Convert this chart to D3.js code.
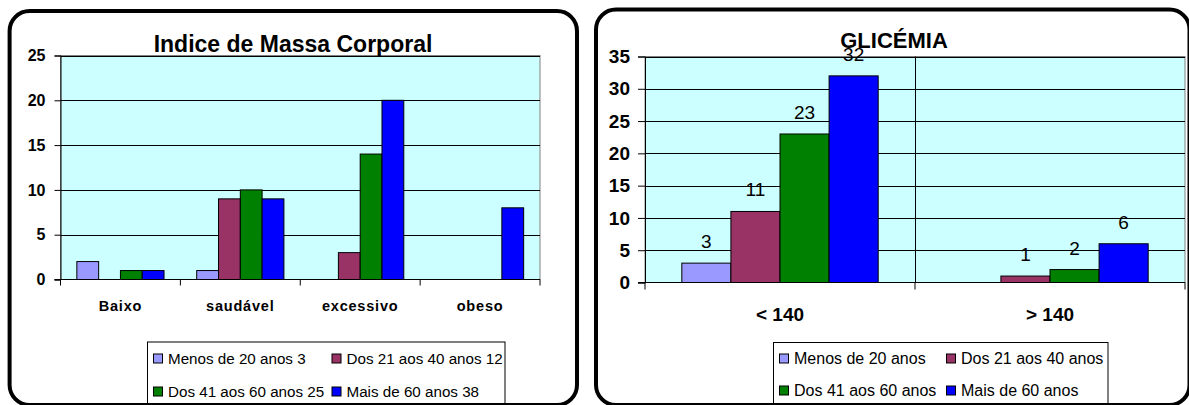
<!DOCTYPE html>
<html>
<head>
<meta charset="utf-8">
<script src="https://cdn.jsdelivr.net/npm/d3@7"></script>
<style>
  body { margin: 0; background: #fff; }
  svg { display: block; font-family: "Liberation Sans", Arial, sans-serif; }
</style>
</head>
<body>
<svg id="chart" width="1189" height="405"></svg>
<script>
// Series shared by both charts
const seriesNames = ["Menos de 20 anos", "Dos 21 aos 40 anos", "Dos 41 aos 60 anos", "Mais de 60 anos"];
const seriesColors = ["#9999ff", "#993366", "#008000", "#0000ff"];

// Left chart: IMC
const imcTitle = "Indice de Massa Corporal";
const imcCategories = ["Baixo", "saudável", "excessivo", "obeso"];
const imcValues = [
  [2, 1, 0, 0],   // Menos de 20 anos
  [0, 9, 3, 0],   // Dos 21 aos 40 anos
  [1, 10, 14, 0], // Dos 41 aos 60 anos
  [1, 9, 20, 8]   // Mais de 60 anos
];
const imcLegend = ["Menos de 20 anos 3", "Dos 21 aos 40 anos 12", "Dos 41 aos 60 anos 25", "Mais de 60 anos 38"];
const imcTicks = [0, 5, 10, 15, 20, 25];

// Right chart: glicemia
const glicTitle = "GLICÉMIA";
const glicCategories = ["< 140", "> 140"];
const glicValues = [
  [3, 0],
  [11, 1],
  [23, 2],
  [32, 6]
];
const glicLegend = seriesNames;
const glicTicks = [0, 5, 10, 15, 20, 25, 30, 35];

const svg = d3.select("#chart");

function drawChart(o) {
  const g = svg.append("g");

  // plot background
  g.append("rect")
    .attr("x", o.left).attr("y", o.top)
    .attr("width", o.right - o.left).attr("height", o.bottom - o.top)
    .attr("fill", "#ccffff").attr("stroke", "#808080").attr("stroke-width", 1);

  const y = d3.scaleLinear().domain([0, d3.max(o.ticks)]).range([o.bottom, o.top]);
  const x0 = d3.scaleBand().domain(o.categories).range([o.left, o.right]);
  const x1 = d3.scaleBand().domain(d3.range(seriesNames.length))
    .range([0, x0.bandwidth()]).paddingInner(0).paddingOuter(0.75);

  // horizontal gridlines
  g.append("g").selectAll("line")
    .data(o.ticks.filter(t => t > 0))
    .join("line")
    .attr("x1", o.left).attr("x2", o.right)
    .attr("y1", d => Math.round(y(d)) + 0.5).attr("y2", d => Math.round(y(d)) + 0.5)
    .attr("stroke", "#000");

  // vertical gridlines between categories
  if (o.vGrid) {
    g.append("g").selectAll("line")
      .data(o.categories.slice(1))
      .join("line")
      .attr("x1", d => Math.round(x0(d)) + 0.5).attr("x2", d => Math.round(x0(d)) + 0.5)
      .attr("y1", o.top).attr("y2", o.bottom)
      .attr("stroke", "#000");
  }

  // bars
  const cells = [];
  o.values.forEach((vals, s) => vals.forEach((v, i) => cells.push({ s, cat: o.categories[i], v })));
  g.append("g").selectAll("rect")
    .data(cells.filter(d => d.v > 0))
    .join("rect")
    .attr("x", d => x0(d.cat) + x1(d.s))
    .attr("y", d => y(d.v))
    .attr("width", x1.bandwidth())
    .attr("height", d => o.bottom - y(d.v))
    .attr("fill", d => seriesColors[d.s])
    .attr("stroke", "#000").attr("stroke-width", 1);

  // value labels
  if (o.valueLabels) {
    g.append("g").selectAll("text")
      .data(cells.filter(d => d.v > 0))
      .join("text")
      .attr("x", d => x0(d.cat) + x1(d.s) + x1.bandwidth() / 2)
      .attr("y", d => y(d.v) - 15)
      .attr("text-anchor", "middle")
      .attr("font-size", o.valueSize)
      .text(d => d.v);
  }

  // y axis
  const yAxis = g.append("g")
    .attr("transform", `translate(${o.left},0)`)
    .call(d3.axisLeft(y).tickValues(o.ticks).tickSize(o.tickLen).tickPadding(o.tickPad));
  yAxis.select(".domain").attr("stroke", "#000");
  yAxis.selectAll(".tick line").attr("stroke", "#000");
  yAxis.selectAll(".tick text")
    .attr("font-size", o.tickSize).attr("font-weight", "bold")
    .attr("font-family", "Liberation Sans, Arial, sans-serif").attr("fill", "#000");

  // x axis: line, boundary ticks, category labels
  g.append("line")
    .attr("x1", o.left - o.tickLen).attr("x2", o.right)
    .attr("y1", o.bottom).attr("y2", o.bottom).attr("stroke", "#000");
  g.append("g").selectAll("line")
    .data(o.categories.map(c => x0(c)).concat([o.right]))
    .join("line")
    .attr("x1", d => d).attr("x2", d => d)
    .attr("y1", o.bottom).attr("y2", o.bottom + o.tickLen)
    .attr("stroke", "#000");
  g.append("g").selectAll("text")
    .data(o.categories)
    .join("text")
    .attr("x", d => x0(d) + x0.bandwidth() / 2)
    .attr("y", o.catY)
    .attr("text-anchor", "middle")
    .attr("font-size", o.catSize).attr("font-weight", "bold")
    .attr("letter-spacing", o.catSpacing)
    .text(d => d);

  // title
  g.append("text")
    .attr("x", o.titleX).attr("y", o.titleY)
    .attr("text-anchor", "middle")
    .attr("font-size", o.titleSize).attr("font-weight", "bold")
    .text(o.title);

  // legend
  const L = o.legend;
  const lg = g.append("g").attr("transform", `translate(${L.x},${L.y})`);
  lg.append("rect").attr("x", 0.5).attr("y", 0.5)
    .attr("width", L.w).attr("height", 80)
    .attr("fill", "#fff").attr("stroke", "#000");
  const item = lg.selectAll("g.item")
    .data(L.labels)
    .join("g").attr("class", "item")
    .attr("transform", (d, i) => `translate(${i % 2 ? L.col2 : 6},${i < 2 ? L.row1 : L.row2})`);
  item.append("rect")
    .attr("x", 0.5).attr("y", -4.5).attr("width", 9).attr("height", 9)
    .attr("fill", (d, i) => seriesColors[i]).attr("stroke", "#000");
  item.append("text")
    .attr("x", 15).attr("y", 0).attr("dy", "0.35em")
    .attr("font-size", L.size)
    .text(d => d);

  // rounded frame
  svg.append("rect")
    .attr("x", o.frame[0]).attr("y", o.frame[1])
    .attr("width", o.frame[2] - o.frame[0]).attr("height", o.frame[3] - o.frame[1])
    .attr("rx", 20).attr("ry", 20)
    .attr("fill", "none").attr("stroke", "#000").attr("stroke-width", 4);
}

drawChart({
  frame: [9.6, 11, 577, 405],
  left: 60.5, top: 55.5, right: 540, bottom: 279.5,
  categories: imcCategories, values: imcValues, ticks: imcTicks,
  tickLen: 6, tickPad: 9, tickSize: 16,
  catY: 311, catSize: 14.5, catSpacing: 0.8,
  title: imcTitle, titleX: 293, titleY: 51.5, titleSize: 23,
  valueLabels: false, vGrid: false,
  legend: { x: 147, y: 341.5, w: 357.5, labels: imcLegend, col2: 184.5, row1: 17, row2: 50, size: 15.2 }
});

drawChart({
  frame: [596, 9.5, 1189.5, 405],
  left: 645, top: 56.5, right: 1185, bottom: 282.5,
  categories: glicCategories, values: glicValues, ticks: glicTicks,
  tickLen: 7, tickPad: 8, tickSize: 19,
  catY: 321, catSize: 19, catSpacing: 0,
  title: glicTitle, titleX: 894, titleY: 48.3, titleSize: 22,
  valueLabels: true, valueSize: 19, vGrid: true,
  legend: { x: 773, y: 342, w: 334.5, labels: glicLegend, col2: 173, row1: 16.5, row2: 48.5, size: 16 }
});
</script>
</body>
</html>
